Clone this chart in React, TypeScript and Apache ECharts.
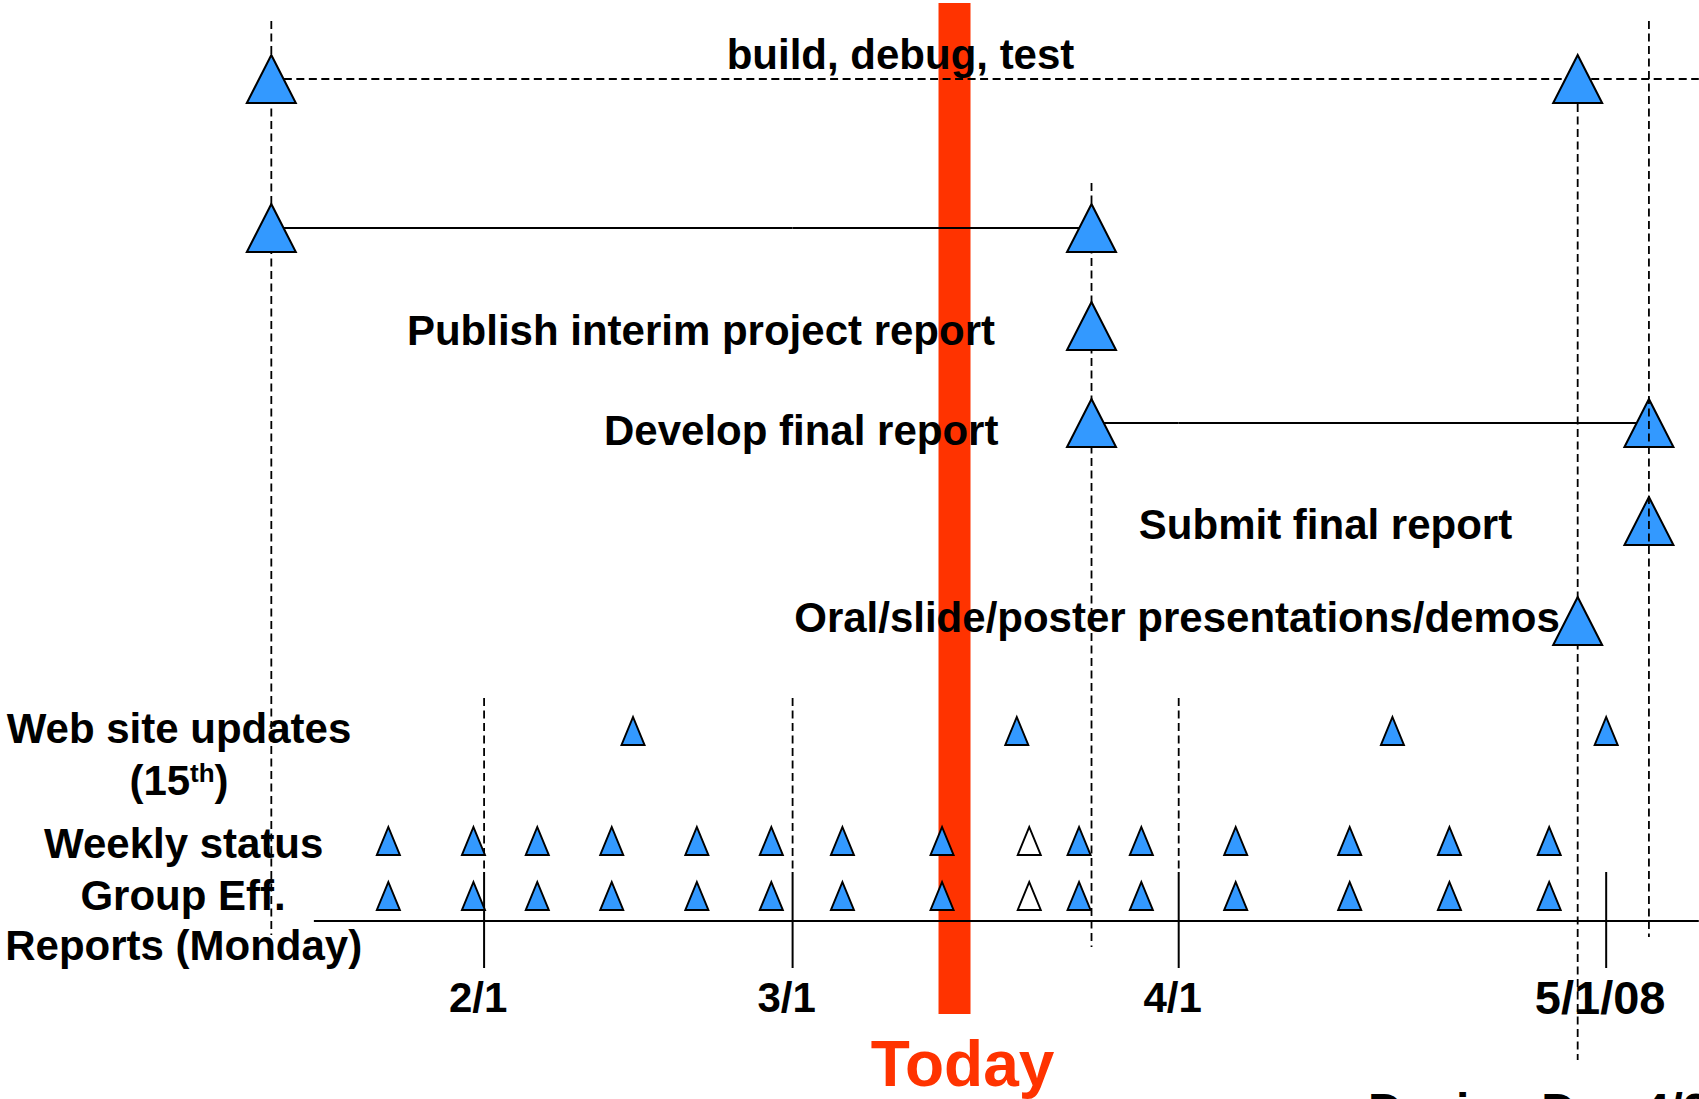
import React, { useEffect, useRef } from "react";
import * as echarts from "echarts";

// ---------------- data ----------------
const monthTickDates = ["2008-02-01", "2008-03-01", "2008-04-01", "2008-05-01"];
const monthTickLabels = ["2/1", "3/1", "4/1", "5/1/08"];
const monthGuideDates = ["2008-02-01", "2008-03-01", "2008-04-01"];

const todayDate = "2008-03-14";
const todayLabel = "Today";

const laneNames = ["build", "design", "interim", "develop", "submit", "oral", "web", "weekly", "group", "axis"];
const laneLevels = [0.79, 2.28, 3.26, 4.23, 5.21, 6.21, 7.31, 8.41, 8.96, 9.21];

const milestoneDates = ["2008-01-12", "2008-04-29", "2008-01-12", "2008-03-25", "2008-03-25", "2008-03-25", "2008-05-04", "2008-05-04", "2008-04-29"];
const milestoneLanes = ["build", "build", "design", "design", "interim", "develop", "develop", "submit", "oral"];
const milestoneLabels = ["", "", "", "", "Publish interim project report", "Develop final report", "", "Submit final report", "Oral/slide/poster presentations/demos"];

const spanLanes = ["build", "design", "develop"];
const spanStarts = ["2008-01-12", "2008-01-12", "2008-03-25"];
const spanEnds = ["2008-05-08", "2008-03-25", "2008-05-04"];
const spanTitle = "build, debug, test";

const guideDates = ["2008-01-12", "2008-03-25", "2008-04-29", "2008-05-04"];
const designDayLabel = "Design Day 4/29";

const webUpdateDates = ["2008-02-15", "2008-03-19", "2008-04-16", "2008-05-01"];
const weeklyDates = [
  "2008-01-23", "2008-01-31", "2008-02-06", "2008-02-13", "2008-02-21", "2008-02-28", "2008-03-05",
  "2008-03-13", "2008-03-20", "2008-03-24", "2008-03-29", "2008-04-05", "2008-04-13", "2008-04-20", "2008-04-27",
];
const weeklyPending = ["2008-03-20"];

const timelineStart = "2008-01-16";
const timelineEnd = "2008-05-08";

const laneTitles = ["Web site updates", "(15th)", "Weekly status", "Group Eff.", "Reports (Monday)"];

// ---------------- layout & style ----------------
const W = 1699;
const H = 1099;
const Y_MAX = 10.99;
const FONT = '"Liberation Sans", Arial, Helvetica, sans-serif';
const BLUE = "#3399FF";
const RED = "#FF3300";

// the hand-drawn time axis is not uniform: one linear time scale per month block
const SEGMENTS = [
  { min: "2008-01-01", max: "2008-03-01", left: 154.3, width: 638.3 },
  { min: "2008-03-01", max: "2008-04-01", left: 792.6, width: 386.1 },
  { min: "2008-04-01", max: "2008-05-07 12", left: 1178.7, width: 520.1 },
];
const GUIDE_EXTENTS = [[0.21, 9.35], [1.83, 9.47], [0.79, 10.6], [0.21, 9.37]];
const GUIDE_Z = [2, 2, 2, 6];
const LABEL_POS: Record<number, number[]> = { 4: [-71, 29.2], 5: [-67.6, 32.2], 7: [-111.2, 28.5], 8: [7.6, 21.8] };

const parse = (s: string) => {
  const [d, h] = s.split(" ");
  const [y, m, dd] = d.split("-").map(Number);
  return Date.UTC(y, m - 1, dd, h ? Number(h) : 0);
};

function buildOption() {
  const segs = SEGMENTS.map((s) => ({ ...s, lo: parse(s.min), hi: parse(s.max) }));
  const segOf = (t: number) => (t < segs[0].hi ? 0 : t < segs[1].hi ? 1 : 2);
  const lane = (n: string) => laneLevels[laneNames.indexOf(n)];
  const series: any[] = [];
  const base = (i: number, z: number) => ({ xAxisIndex: i, yAxisIndex: i, silent: true, z, animation: false });

  const DASH = { color: "#000", width: 1.8, type: [8, 4.5], cap: "butt" };
  const SOLID = { color: "#000", width: 2, type: "solid" };
  const TEXT42 = { fontSize: 42, fontWeight: "bold", fontFamily: FONT, color: "#000", opacity: 1 };

  const vline = (date: string, y1: number, y2: number, lineStyle: any, z: number) => {
    const t = parse(date);
    const i = segOf(t);
    series.push({ ...base(i, z), type: "line", clip: false, symbol: "none", lineStyle, data: [[t, y1], [t, y2]] });
  };
  const hline = (d1: string, d2: string, y: number, lineStyle: any, z: number) => {
    const t1 = parse(d1);
    const t2 = parse(d2);
    segs.forEach((s, i) => {
      const a = Math.max(t1, s.lo);
      const b = Math.min(t2, s.hi);
      if (a < b) series.push({ ...base(i, z), type: "line", clip: false, symbol: "none", lineStyle, data: [[a, y], [b, y]] });
    });
  };
  const triangles = (items: any[], size: number[], z: number) => {
    segs.forEach((_, i) => {
      const data = items.filter((it) => segOf(it.value[0]) === i);
      if (data.length)
        series.push({
          ...base(i, z), type: "scatter", clip: false, symbol: "triangle", symbolSize: size,
          itemStyle: { color: BLUE, borderColor: "#000", borderWidth: 2, opacity: 1 }, data,
        });
    });
  };
  const textPoint = (date: string, y: number, label: any, z: number) => {
    const t = parse(date);
    const i = segOf(t);
    series.push({
      ...base(i, z), type: "scatter", clip: false, symbol: "circle", symbolSize: 0,
      itemStyle: { color: "rgba(0,0,0,0)", borderWidth: 0, opacity: 1 },
      data: [{ value: [t, y], label: { show: true, opacity: 1, ...label } }],
    });
  };

  // Today bar
  vline(todayDate, 0.03, 10.14, { color: RED, width: 32, type: "solid", cap: "butt" }, 1);
  // guides
  guideDates.forEach((d, k) => vline(d, GUIDE_EXTENTS[k][0], GUIDE_EXTENTS[k][1], DASH, GUIDE_Z[k]));
  monthGuideDates.forEach((d) => vline(d, 6.98, 8.72, DASH, 2));
  monthTickDates.forEach((d) => vline(d, 8.72, 9.68, SOLID, 3));
  // baseline and spans
  hline(timelineStart, timelineEnd, lane("axis"), { color: "#000", width: 2 }, 3);
  spanLanes.forEach((ln, k) => hline(spanStarts[k], spanEnds[k], lane(ln), k === 0 ? DASH : SOLID, 3));

  // milestones
  const msItems = milestoneDates.map((d, k) => {
    const item: any = { value: [parse(d), lane(milestoneLanes[k])] };
    if (milestoneLabels[k])
      item.label = { show: true, formatter: milestoneLabels[k], position: LABEL_POS[k], align: "right", verticalAlign: "middle", ...TEXT42 };
    return item;
  });
  triangles(msItems, [49, 48], 4);

  // recurring items
  triangles(webUpdateDates.map((d) => ({ value: [parse(d), lane("web")] })), [23, 28], 4);
  ["weekly", "group"].forEach((ln) =>
    triangles(
      weeklyDates.map((d) => ({
        value: [parse(d), lane(ln)],
        ...(weeklyPending.includes(d) ? { itemStyle: { color: "#fff" } } : {}),
      })),
      [23, 28],
      4
    )
  );

  // tick labels
  monthTickDates.forEach((d, k) =>
    textPoint(d, 9.68, {
      formatter: monthTickLabels[k], position: [-6, 29], align: "center", verticalAlign: "middle",
      ...TEXT42, fontSize: k === monthTickDates.length - 1 ? 47 : 42,
    }, 7)
  );
  // Today label
  textPoint(todayDate, 10.14, {
    formatter: todayLabel, position: [8, 18.3], align: "center", verticalAlign: "top",
    fontSize: 64, fontWeight: "bold", fontFamily: FONT, color: RED,
  }, 7);

  const gtext = (text: string, x: number, y: number, align: string, size = 42, extra: any = {}) => ({
    type: "text", x, y, z: 100, silent: true,
    style: {
      text, font: `bold ${size}px ${FONT}`, fill: "#000",
      align, textAlign: align, verticalAlign: "middle", textVerticalAlign: "middle", ...extra,
    },
  });
  const richTok = { fontSize: 42, fontWeight: "bold", fontFamily: FONT, lineHeight: 42, color: "#000", fill: "#000" };
  const graphic = [
    gtext(spanTitle, 900.5, 54.5, "center"),
    gtext(laneTitles[0], 179, 728.8, "center"),
    gtext("{n|(15}{s|th}{n|)}", 179, 780.5, "center", 42, {
      rich: {
        n: richTok,
        s: { ...richTok, fontSize: 26, lineHeight: 26, verticalAlign: "top" },
      },
    }),
    gtext(laneTitles[2], 183.7, 843.8, "center"),
    gtext(laneTitles[3], 183.1, 895.5, "center"),
    gtext(laneTitles[4], 183.7, 945.5, "center"),
    gtext(designDayLabel, 1368, 1110.7, "left", 48),
  ];

  return {
    animation: false,
    useUTC: true,
    backgroundColor: "#fff",
    grid: segs.map((s) => ({ left: s.left, width: s.width, top: 0, height: H, show: false })),
    xAxis: segs.map((s, i) => ({ type: "time", gridIndex: i, min: s.lo, max: s.hi, show: false })),
    yAxis: segs.map((_, i) => ({ type: "value", gridIndex: i, inverse: true, min: 0, max: Y_MAX, show: false })),
    graphic,
    series,
  };
}

export default function App() {
  const ref = useRef<HTMLDivElement>(null);
  useEffect(() => {
    if (!ref.current) return;
    const chart = echarts.init(ref.current, null, { renderer: "svg" });
    chart.setOption(buildOption() as any);
    return () => chart.dispose();
  }, []);
  return (
    <div
      ref={ref}
      style={{ position: "absolute", left: 0, top: 0, width: W, height: H, background: "#fff" }}
    />
  );
}
